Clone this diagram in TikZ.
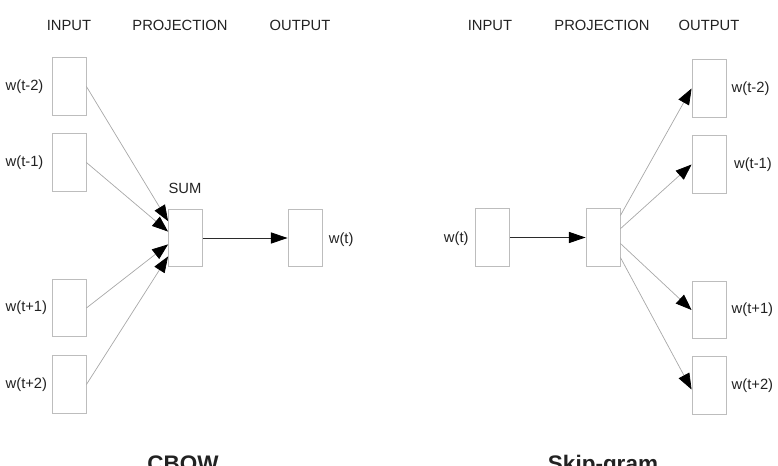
\documentclass[tikz,border=0pt]{standalone}
\usepackage{fontspec}
\setmainfont{Liberation Sans}
\usetikzlibrary{arrows.meta, positioning}
\definecolor{texto}{HTML}{222222}
\definecolor{borde}{HTML}{BDBDBD}
\definecolor{linea}{HTML}{A8A8A8}
\definecolor{flecha}{HTML}{2B2B2B}

\begin{document}
\begin{tikzpicture}[x=0.025cm, y=-0.025cm, font=\fontsize{10.5}{12}\selectfont, text=texto,
  caja/.style={draw=borde, line width=0.6pt, minimum width=0.85cm, minimum height=1.43cm, inner sep=0pt},
  etiq/.style={inner sep=1pt},
  cabecera/.style={anchor=base},
  titulo/.style={anchor=base, font=\fontsize{16}{19}\selectfont\bfseries},
  conexion/.style={draw=linea, line width=0.5pt, -{Triangle[length=4mm, width=3mm, color=black]}},
  principal/.style={draw=flecha, line width=0.6pt, -{Triangle[length=4.2mm, width=2.8mm, color=black]}}]

  % --- Marco de la imagen (los titulos quedan cortados abajo) ---
  \useasboundingbox (0,0) rectangle (778,466);
  \clip (0,0) rectangle (778,466);

  % ===================== CBOW =====================
  \node[cabecera] (cbhin)  at (69,31)  {INPUT};
  \node[cabecera] (cbhpro) at (180,31) {PROJECTION};
  \node[cabecera] (cbhout) at (300,31) {OUTPUT};

  % palabras de contexto (entrada)
  \node[caja] (cbi1) at (69,86.5)  {};
  \node[caja] (cbi2) at (69,162.5) {};
  \node[caja] (cbi3) at (69,308)   {};
  \node[caja] (cbi4) at (69,384.5) {};
  \node[etiq, anchor=west] at (4,0 |- cbi1) {w(t-2)};
  \node[etiq, anchor=west] at (4,0 |- cbi2) {w(t-1)};
  \node[etiq, anchor=west] at (4,0 |- cbi3) {w(t+1)};
  \node[etiq, anchor=west] at (4,0 |- cbi4) {w(t+2)};

  % proyeccion (suma) y salida
  \node[caja] (cbsum) at (185.5,238) {};
  \node[etiq] (cbsumlbl) at (185,188) {SUM};
  \node[caja] (cbout) at (305,238) {};
  \node[etiq, right=0.12cm of cbout, yshift=-0.03cm] {w(t)};

  \draw[conexion] (cbi1.east) -- ([yshift=0.42cm]cbsum.west);
  \draw[conexion] (cbi2.east) -- ([yshift=0.16cm]cbsum.west);
  \draw[conexion] (cbi3.east) -- ([yshift=-0.16cm]cbsum.west);
  \draw[conexion] (cbi4.east) -- ([yshift=-0.46cm]cbsum.west);
  \draw[principal] (cbsum.east) -- (cbout.west);

  \node[titulo] (cbtit) at (183,471) {CBOW};

  % ===================== Skip-gram =====================
  \node[cabecera] (skhin)  at (490,31) {INPUT};
  \node[cabecera] (skhpro) at (602,31) {PROJECTION};
  \node[cabecera] (skhout) at (709,31) {OUTPUT};

  \node[caja] (skin)  at (492.5,237.5) {};
  \node[etiq, left=0.12cm of skin, yshift=-0.03cm] {w(t)};
  \node[caja] (skpro) at (603,237.5) {};

  % palabras de contexto (salida)
  \node[caja] (sko1) at (709,88.5)  {};
  \node[caja] (sko2) at (709,164.5) {};
  \node[caja] (sko3) at (709,310)   {};
  \node[caja] (sko4) at (709,385.5) {};
  \node[etiq, right=0.09cm of sko1] {w(t-2)};
  \node[etiq, right=0.15cm of sko2] {w(t-1)};
  \node[etiq, right=0.09cm of sko3] {w(t+1)};
  \node[etiq, right=0.09cm of sko4] {w(t+2)};

  \draw[principal] (skin.east) -- (skpro.west);
  \draw[conexion] ([yshift=0.55cm]skpro.east) -- (sko1.west);
  \draw[conexion] ([yshift=0.22cm]skpro.east) -- (sko2.west);
  \draw[conexion] ([yshift=-0.15cm]skpro.east) -- (sko3.west);
  \draw[conexion] ([yshift=-0.5cm]skpro.east) -- ([yshift=-0.1cm]sko4.west);

  \node[titulo] (sktit) at (603,471) {Skip-gram};

\end{tikzpicture}
\end{document}
